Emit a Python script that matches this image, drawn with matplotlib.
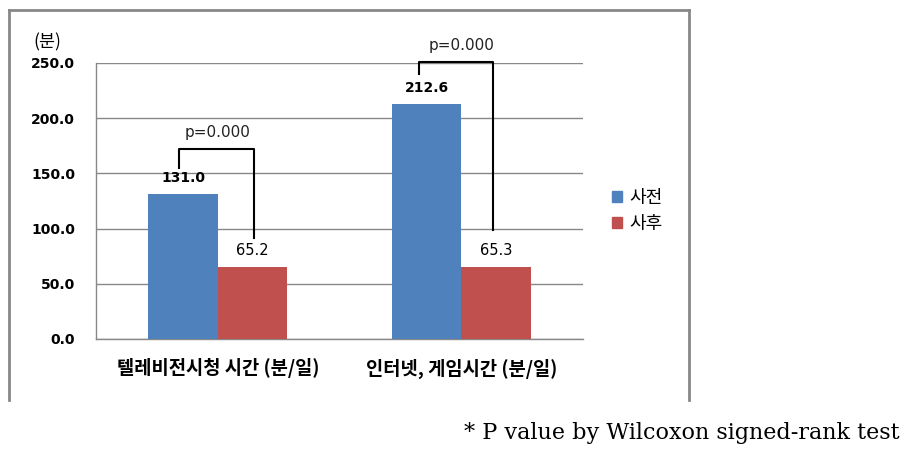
import matplotlib.pyplot as plt
from matplotlib.lines import Line2D
from matplotlib.patches import Patch

plt.rcParams['font.family'] = ['Noto Sans CJK KR', 'DejaVu Sans']

# ── data ──────────────────────────────────────────────
categories = ["텔레비전시청 시간 (분/일)", "인터넷, 게임시간 (분/일)"]
series_names = ["사전", "사후"]
before = [131.0, 212.6]
after = [65.2, 65.3]
p_labels = ["p=0.000", "p=0.000"]
# bracket: (left x offset, right x offset, left bottom, top, right bottom)
brackets = [(-0.159, 0.149, 155, 172, 91.6),
            (-0.174, 0.130, 240, 251, 98.7)]
p_label_y = [187.5, 265.4]
yticks = [0, 50, 100, 150, 200, 250]

blue = "#4F81BD"
red = "#C0504D"
grid_col = "#888888"

fig = plt.figure(figsize=(9.13, 4.58), dpi=100)
ax = fig.add_axes([96 / 913, 1 - 339 / 458, 487 / 913, 276 / 458])

w = 0.285
xs = list(range(len(categories)))
ax.bar([x - w / 2 for x in xs], before, width=w, color=blue, zorder=3)
ax.bar([x + w / 2 for x in xs], after, width=w, color=red, zorder=3)

for x, b, a in zip(xs, before, after):
    ax.text(x - w / 2, b + 15, f"{b:.1f}", ha="center", va="center",
            fontsize=10, fontweight="bold", family="DejaVu Sans")
    ax.text(x + w / 2, a + 15, f"{a:.1f}", ha="center", va="center",
            fontsize=10.5, family="DejaVu Sans")

for x, (l, r, lb, top, rb), py, pl in zip(xs, brackets, p_label_y, p_labels):
    ax.plot([x + l, x + l, x + r, x + r], [lb, top, top, rb],
            color="black", lw=1.5, clip_on=False, zorder=4)
    ax.text(x, py, pl, ha="center", va="center", fontsize=11,
            color="#222222", family="DejaVu Sans")

ax.set_xlim(-0.5, 1.5)
ax.set_ylim(0, 250)
ax.set_yticks(yticks)
ax.set_yticklabels([f"{v:.1f}" for v in yticks], fontsize=10,
                   fontweight="bold", family="DejaVu Sans")
ax.set_xticks(xs)
ax.set_xticklabels(categories, fontsize=13.5, fontweight="bold")
ax.tick_params(axis="y", length=0, pad=15)
ax.tick_params(axis="x", length=0, pad=14)
ax.yaxis.grid(True, color=grid_col, lw=1)
ax.set_axisbelow(True)
for s in ["top", "right"]:
    ax.spines[s].set_visible(False)
for s in ["left", "bottom"]:
    ax.spines[s].set_color(grid_col)
    ax.spines[s].set_linewidth(1)

fig.text(47 / 913, 1 - 42 / 458, "(분)", ha="center", va="center", fontsize=12.5)

handles = [Patch(color=blue), Patch(color=red)]
fig.legend(handles, series_names, loc="center left",
           bbox_to_anchor=(596 / 913, 1 - 211 / 458), frameon=False,
           fontsize=13, handlelength=0.55, handleheight=0.55,
           handletextpad=0.4, labelspacing=0.45)

# outer chart frame
fc = "#888888"
fig.add_artist(Line2D([9 / 913, 689 / 913], [1 - 10 / 458, 1 - 10 / 458], color=fc, lw=2))
fig.add_artist(Line2D([9 / 913, 9 / 913], [1 - 10 / 458, 1 - 400 / 458], color=fc, lw=2))
fig.add_artist(Line2D([689 / 913, 689 / 913], [1 - 10 / 458, 1 - 400 / 458], color=fc, lw=2))

fig.text(900 / 913, 1 - 433 / 458, "* P value by Wilcoxon signed-rank test",
         ha="right", va="center", fontsize=16, family="DejaVu Serif")

fig.savefig("out.png", dpi=100)
